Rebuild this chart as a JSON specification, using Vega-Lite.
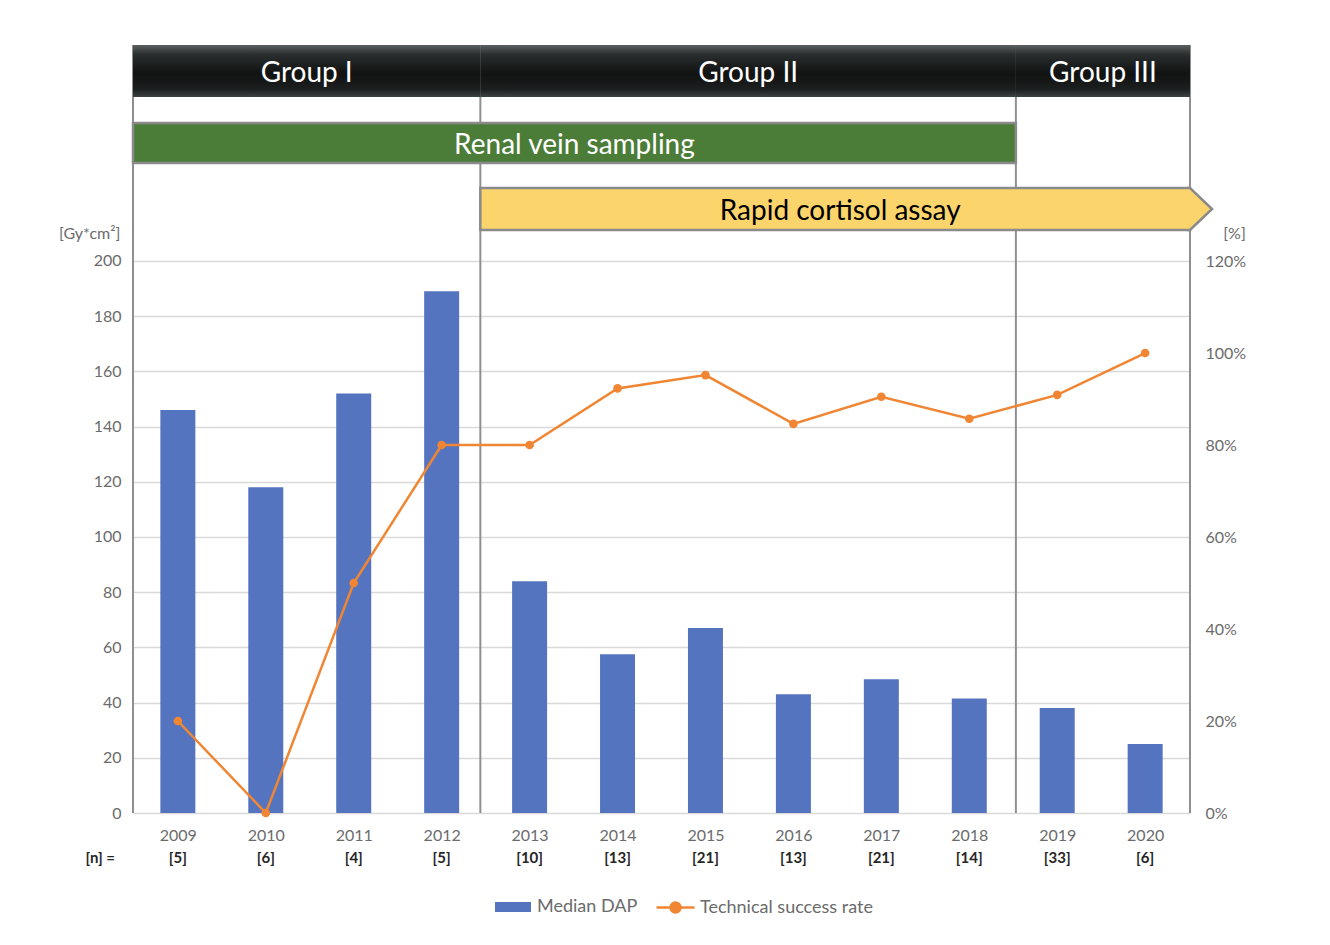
{
  "$schema": "https://vega.github.io/schema/vega-lite/v6.json",
  "autosize": "none",
  "width": 1057,
  "height": 768,
  "padding": {"left": 133, "top": 45, "right": 140, "bottom": 132},
  "background": "white",
  "config": {
    "view": {"stroke": null},
    "font": "Lato",
    "axis": {"labelFont": "Lato", "labelFontSize": 16, "labelColor": "#6b6b6b", "titleFont": "Lato", "titleFontSize": 16, "titleColor": "#6b6b6b", "titleFontWeight": "normal"},
    "legend": {"labelFont": "Lato", "labelFontSize": 18, "labelColor": "#6b6b6b", "padding": 0, "labelLimit": 400}
  },
  "datasets": {
    "main": [
      {"year": 2009, "dap": 146, "pct": 0.20, "n": 5},
      {"year": 2010, "dap": 118, "pct": 0.0, "n": 6},
      {"year": 2011, "dap": 152, "pct": 0.50, "n": 4},
      {"year": 2012, "dap": 189, "pct": 0.80, "n": 5},
      {"year": 2013, "dap": 84, "pct": 0.80, "n": 10},
      {"year": 2014, "dap": 57.5, "pct": 0.923, "n": 13},
      {"year": 2015, "dap": 67, "pct": 0.952, "n": 21},
      {"year": 2016, "dap": 43, "pct": 0.846, "n": 13},
      {"year": 2017, "dap": 48.5, "pct": 0.905, "n": 21},
      {"year": 2018, "dap": 41.5, "pct": 0.857, "n": 14},
      {"year": 2019, "dap": 38, "pct": 0.909, "n": 33},
      {"year": 2020, "dap": 25, "pct": 1.0, "n": 6}
    ],
    "bounds": [{"b": 2008.49}, {"b": 2012.44}, {"b": 2018.53}, {"b": 2020.51}],
    "groups": [
      {"label": "Group I", "start": 2008.49, "end": 2012.44},
      {"label": "Group II", "start": 2012.44, "end": 2018.53},
      {"label": "Group III", "start": 2018.53, "end": 2020.51}
    ],
    "phases": [
      {"label": "Renal vein sampling", "start": 2008.49, "end": 2018.53},
      {"label": "Rapid cortisol assay", "start": 2012.44, "end": 2020.51}
    ]
  },
  "layer": [
    {
      "layer": [
        {
          "data": {"name": "bounds"},
          "mark": {"type": "rule", "color": "#8f8f8f", "strokeWidth": 2},
          "encoding": {
            "x": {"field": "b", "type": "quantitative", "title": null},
            "y": {"datum": 0, "type": "quantitative"},
            "y2": {"datum": 278.26}
          }
        },
        {
          "data": {"name": "main"},
          "mark": {"type": "bar", "size": 35},
          "encoding": {
            "x": {"field": "year", "type": "quantitative", "title": null,
                  "scale": {"domain": [2008.49, 2020.51], "nice": false, "zero": false, "padding": 0},
                  "axis": {"values": [2009, 2010, 2011, 2012, 2013, 2014, 2015, 2016, 2017, 2018, 2019, 2020], "format": "d", "labelPadding": 14, "domain": false, "ticks": false, "grid": false, "title": null}},
            "y": {"field": "dap", "type": "quantitative",
                  "scale": {"domain": [0, 278.26], "nice": false, "zero": false},
                  "axis": {"values": [0, 20, 40, 60, 80, 100, 120, 140, 160, 180, 200], "grid": true, "gridColor": "#d9d9d9", "gridWidth": 1.3, "domain": false, "ticks": false, "labelPadding": 12,
                           "title": "[Gy*cm²]", "titleAngle": 0, "titleAlign": "right", "titleBaseline": "middle", "titleX": -13, "titleY": 188}},
            "fill": {"datum": "Median DAP", "scale": {"range": ["#5574bf"]},
                     "legend": {"orient": "none", "legendX": 361, "legendY": 843, "title": null, "symbolType": "M-1,-0.28H1V0.28H-1Z", "symbolSize": 1296, "labelOffset": 5}}
          }
        },
        {
          "data": {"name": "groups"},
          "mark": {"type": "rect", "fill": {"gradient": "linear", "x1": 0, "y1": 0, "x2": 0, "y2": 1,
                   "stops": [{"offset": 0, "color": "#5b6160"}, {"offset": 0.18, "color": "#2a2e2e"}, {"offset": 0.55, "color": "#111212"}, {"offset": 0.85, "color": "#1c1f1f"}, {"offset": 1, "color": "#3c4141"}]}},
          "encoding": {
            "x": {"field": "start", "type": "quantitative", "title": null},
            "x2": {"field": "end"},
            "y": {"datum": 278.26, "type": "quantitative"},
            "y2": {"datum": 259.42}
          }
        },
        {
          "data": {"name": "groups"},
          "transform": [{"calculate": "(datum.start + datum.end) / 2", "as": "mid"}],
          "mark": {"type": "text", "color": "white", "fontSize": 28, "baseline": "middle", "align": "center", "dy": 3},
          "encoding": {
            "x": {"field": "mid", "type": "quantitative", "title": null},
            "y": {"datum": 268.8, "type": "quantitative"},
            "text": {"field": "label"}
          }
        },
        {
          "data": {"name": "phases"},
          "transform": [{"filter": "datum.label == 'Renal vein sampling'"}],
          "mark": {"type": "rect", "fill": "#4b7d39", "stroke": "#8a8a8a", "strokeWidth": 2.5},
          "encoding": {
            "x": {"field": "start", "type": "quantitative", "title": null},
            "x2": {"field": "end"},
            "y": {"datum": 250.0, "type": "quantitative"},
            "y2": {"datum": 235.5}
          }
        },
        {
          "data": {"name": "phases"},
          "transform": [{"filter": "datum.label == 'Rapid cortisol assay'"}],
          "mark": {"type": "rect", "fill": "#fbd56b", "stroke": "#8a8a8a", "strokeWidth": 2.5},
          "encoding": {
            "x": {"field": "start", "type": "quantitative", "title": null},
            "x2": {"field": "end"},
            "y": {"datum": 226.45, "type": "quantitative"},
            "y2": {"datum": 211.23}
          }
        },
        {
          "data": {"name": "phases"},
          "transform": [{"filter": "datum.label == 'Rapid cortisol assay'"}],
          "mark": {"type": "point", "filled": true, "fill": "#fbd56b", "stroke": "#8a8a8a", "strokeWidth": 2.5, "opacity": 1, "shape": "M-0.15,-1L0,-1L1.05,0L0,1L-0.15,1", "size": 1764},
          "encoding": {
            "x": {"field": "end", "type": "quantitative", "title": null},
            "y": {"datum": 218.84, "type": "quantitative"}
          }
        },
        {
          "data": {"name": "phases"},
          "transform": [{"filter": "datum.label == 'Renal vein sampling'"}, {"calculate": "(datum.start + datum.end) / 2", "as": "mid"}],
          "mark": {"type": "text", "fontSize": 28, "baseline": "middle", "align": "center", "color": "white", "dy": 3},
          "encoding": {
            "x": {"field": "mid", "type": "quantitative", "title": null},
            "y": {"datum": 242.75, "type": "quantitative"},
            "text": {"field": "label"}
          }
        },
        {
          "data": {"name": "phases"},
          "transform": [{"filter": "datum.label == 'Rapid cortisol assay'"}, {"calculate": "(datum.start + datum.end) / 2", "as": "mid"}],
          "mark": {"type": "text", "fontSize": 28, "baseline": "middle", "align": "center", "color": "black", "dx": 5, "dy": 3},
          "encoding": {
            "x": {"field": "mid", "type": "quantitative", "title": null},
            "y": {"datum": 218.84, "type": "quantitative"},
            "text": {"field": "label"}
          }
        },
        {
          "data": {"name": "main"},
          "transform": [{"calculate": "'[' + datum.n + ']'", "as": "nlabel"}],
          "mark": {"type": "text", "fontSize": 15, "fontWeight": "bold", "color": "#262626", "baseline": "middle", "align": "center", "dy": 45},
          "encoding": {
            "x": {"field": "year", "type": "quantitative", "title": null},
            "y": {"datum": 0, "type": "quantitative"},
            "text": {"field": "nlabel"}
          }
        },
        {
          "data": {"values": [{}]},
          "mark": {"type": "text", "text": "[n] =", "fontSize": 15, "fontWeight": "bold", "color": "#262626", "baseline": "middle", "align": "right", "dy": 45, "dx": -18},
          "encoding": {
            "x": {"datum": 2008.49, "type": "quantitative", "title": null},
            "y": {"datum": 0, "type": "quantitative"}
          }
        }
      ]
    },
    {
      "layer": [
        {
          "data": {"name": "main"},
          "mark": {"type": "line", "strokeWidth": 2.5},
          "encoding": {
            "x": {"field": "year", "type": "quantitative", "title": null},
            "y": {"field": "pct", "type": "quantitative",
                  "scale": {"domain": [0, 1.6696], "nice": false, "zero": false},
                  "axis": {"orient": "right", "values": [0, 0.2, 0.4, 0.6, 0.8, 1.0, 1.2], "format": ".0%", "grid": false, "domain": false, "ticks": false, "labelPadding": 15,
                           "title": "[%]", "titleAngle": 0, "titleAlign": "center", "titleBaseline": "middle", "titleX": 44, "titleY": 188}},
            "stroke": {"datum": "Technical success rate", "scale": {"range": ["#f08633"]},
                       "legend": {"orient": "none", "legendX": 522, "legendY": 842, "title": null,
                                  "symbolType": "M-1,0H1M0.26,0A0.26,0.26 0 1,1 -0.26,0A0.26,0.26 0 1,1 0.26,0", "symbolSize": 1444, "symbolStrokeWidth": 2.5, "labelOffset": 4,
                                  "encode": {"symbols": {"update": {"fill": {"value": "#f08633"}, "fillOpacity": {"value": 1}}}}}}
          }
        },
        {
          "data": {"name": "main"},
          "mark": {"type": "point", "filled": true, "color": "#f08633", "size": 75, "opacity": 1},
          "encoding": {
            "x": {"field": "year", "type": "quantitative", "title": null},
            "y": {"field": "pct", "type": "quantitative"}
          }
        }
      ]
    }
  ],
  "resolve": {"scale": {"y": "independent"}}
}
